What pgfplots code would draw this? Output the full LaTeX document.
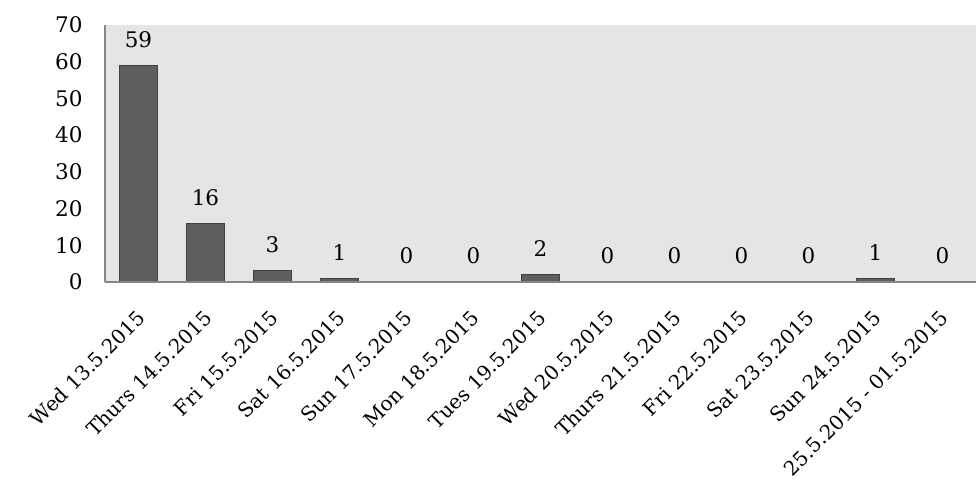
\documentclass[border=0pt]{standalone}
\usepackage{fontspec}
\setmainfont{DejaVu Serif}
\usepackage{pgfplots}
\pgfplotsset{compat=1.18}
\definecolor{bg}{RGB}{229,229,229}
\definecolor{barfill}{RGB}{95,95,95}
\definecolor{barline}{RGB}{64,64,64}
\definecolor{axisline}{RGB}{134,134,134}
\begin{document}
\begin{tikzpicture}[font=\fontsize{21.5bp}{26bp}\selectfont]
\begin{axis}[
  width=871bp, height=257bp, scale only axis,
  ybar, bar width=0.58,
  xmin=-0.5, xmax=12.5, ymin=0, ymax=70,
  ytick={0,10,...,70},
  xtick={0,...,12},
  xticklabels={Wed 13.5.2015, Thurs 14.5.2015, Fri 15.5.2015, Sat 16.5.2015, Sun 17.5.2015, Mon 18.5.2015, Tues 19.5.2015, Wed 20.5.2015, Thurs 21.5.2015, Fri 22.5.2015, Sat 23.5.2015, Sun 24.5.2015, 25.5.2015 - 01.5.2015},
  xticklabel style={font=\fontsize{20bp}{24bp}\selectfont, anchor=north east, inner sep=2bp, xshift=-3bp, yshift=-24bp, rotate=45},
  yticklabel style={xshift=-19bp},
  axis x line*=bottom, axis y line*=left,
  axis line style={draw=axisline, line width=1.5bp, -},
  major tick length=0,
  axis background/.style={fill=bg},
  nodes near coords,
  every node near coord/.append style={black, yshift=14bp},
  /pgf/number format/assume math mode=true,
  axis on top,
  clip=false,
]
\addplot[fill=barfill, draw=barline, line width=1bp] coordinates {
(0,59) (1,16) (2,3) (3,1) (4,0) (5,0) (6,2) (7,0) (8,0) (9,0) (10,0) (11,1) (12,0)};
\end{axis}
\pgfresetboundingbox
\path (current axis.south west) ++(-105bp,-206bp) rectangle ++(976bp,488bp);
\end{tikzpicture}
\end{document}
